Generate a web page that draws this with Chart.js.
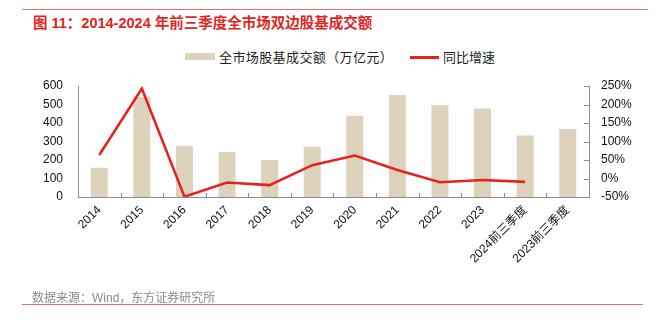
<!DOCTYPE html>
<html><head><meta charset="utf-8">
<script src="https://cdn.jsdelivr.net/npm/chart.js@4/dist/chart.umd.min.js"></script>
<style>
html,body{margin:0;padding:0;background:#fff;}
#wrap{position:relative;width:658px;height:323px;overflow:hidden;font-family:"Liberation Sans","Noto Sans CJK SC",sans-serif;}
#topline{position:absolute;left:22px;top:9px;width:626px;height:1px;background:#e8706a;}
#title{position:absolute;left:33px;top:11px;font-size:14.5px;font-weight:bold;color:#e0251f;white-space:nowrap;font-family:"Liberation Sans","Noto Sans CJK SC",sans-serif;}
#source{position:absolute;left:32px;top:288px;font-size:12px;color:#8a8a8a;white-space:nowrap;font-family:"Liberation Sans","Noto Sans CJK SC",sans-serif;}
#botline{position:absolute;left:22px;top:304px;width:621px;height:1px;background:#e8706a;}
#legend{position:absolute;left:185px;top:47px;font-size:13px;color:#222;white-space:nowrap;font-family:"Liberation Sans","Noto Sans CJK SC",sans-serif;}
.lg{position:absolute;top:0;}
canvas{position:absolute;left:0;top:0;}
</style></head>
<body>
<div id="wrap">
<div id="topline"></div>
<div id="title">图 11：2014-2024 年前三季度全市场双边股基成交额</div>
<div id="legend">
 <div class="lg" style="left:0;top:6px;width:30px;height:7px;background:#ddd3bc;"></div>
 <div class="lg" id="lt1" style="left:34px;top:0;letter-spacing:0.4px;"></div>
 <div class="lg" style="left:225px;top:9px;width:29px;height:2.5px;background:#e5231e;"></div>
 <div class="lg" id="lt2" style="left:258px;top:0;"></div>
</div>
<canvas id="c" width="658" height="323"></canvas>
<div id="source">数据来源：Wind，东方证券研究所</div>
<div id="botline"></div>
</div>
<script>
const categories = ['2014','2015','2016','2017','2018','2019','2020','2021','2022','2023','2024前三季度','2023前三季度'];
const turnover = [158, 542, 277, 243, 200, 272, 439, 551, 496, 479, 333, 368];
const growth = [63.5, 243, -49, -11, -18, 36, 62, 23, -10, -4, -9, null];
const leftTicks = [0,100,200,300,400,500,600];
const rightTicks = [-50,0,50,100,150,200,250];
const barLabel = '全市场股基成交额（万亿元）';
const lineLabel = '同比增速';
document.getElementById('lt1').textContent = barLabel;
document.getElementById('lt2').textContent = lineLabel;

const FONT = {family:'"Liberation Sans","Noto Sans CJK SC",sans-serif', size:12};
const innerTicks = {
  id:'innerTicks',
  afterDraw(chart){
    const ctx = chart.ctx, x = chart.scales.x, y2 = chart.scales.y2, a = chart.chartArea;
    ctx.save();
    ctx.strokeStyle = '#8c8c8c'; ctx.lineWidth = 1;
    const n = categories.length;
    const w = (x.getPixelForValue(1) - x.getPixelForValue(0));
    ctx.beginPath();
    for(let i=1;i<n;i++){
      const px = Math.round(x.getPixelForValue(i) - w/2) + 0.5;
      ctx.moveTo(px, a.bottom); ctx.lineTo(px, a.bottom-4);
    }
    rightTicks.forEach(v=>{
      const py = Math.round(y2.getPixelForValue(v)) + 0.5;
      ctx.moveTo(a.right, py); ctx.lineTo(a.right-5, py);
    });
    ctx.stroke();
    ctx.restore();
  }
};

new Chart(document.getElementById('c'), {
  data:{
    labels: categories,
    datasets:[
      {type:'line', label: lineLabel, data: growth, yAxisID:'y2', borderColor:'#e5231e', borderWidth:2.6, pointRadius:0, tension:0, spanGaps:false, order:0},
      {type:'bar', label: barLabel, data: turnover, yAxisID:'y', backgroundColor:'#ddd3bc', barPercentage:0.4, categoryPercentage:1.0, order:1}
    ]
  },
  options:{
    responsive:false, animation:false, devicePixelRatio:1,
    layout:{padding:{top:86,left:0,right:0,bottom:0}},
    plugins:{legend:{display:false}, tooltip:{enabled:false}},
    scales:{
      x:{
        grid:{display:false, drawTicks:false},
        border:{display:true, color:'#8c8c8c'},
        ticks:{font:FONT, color:'#111', maxRotation:45, minRotation:45, padding:6, autoSkip:false},
        afterFit(s){ s.height = 126; }
      },
      y:{
        position:'left', min:0, max:600,
        grid:{display:false, drawTicks:false},
        border:{display:true, color:'#8c8c8c'},
        afterBuildTicks(s){ s.ticks = leftTicks.map(v=>({value:v})); },
        ticks:{font:FONT, color:'#111', padding:15},
        afterFit(s){ s.width = 78; }
      },
      y2:{
        position:'right', min:-50, max:250,
        grid:{display:false, drawTicks:false},
        border:{display:true, color:'#8c8c8c'},
        afterBuildTicks(s){ s.ticks = rightTicks.map(v=>({value:v})); },
        ticks:{font:FONT, color:'#111', padding:12, callback:v=>v+'%'},
        afterFit(s){ s.width = 69; }
      }
    }
  },
  plugins:[innerTicks]
});
</script>
</body></html>
